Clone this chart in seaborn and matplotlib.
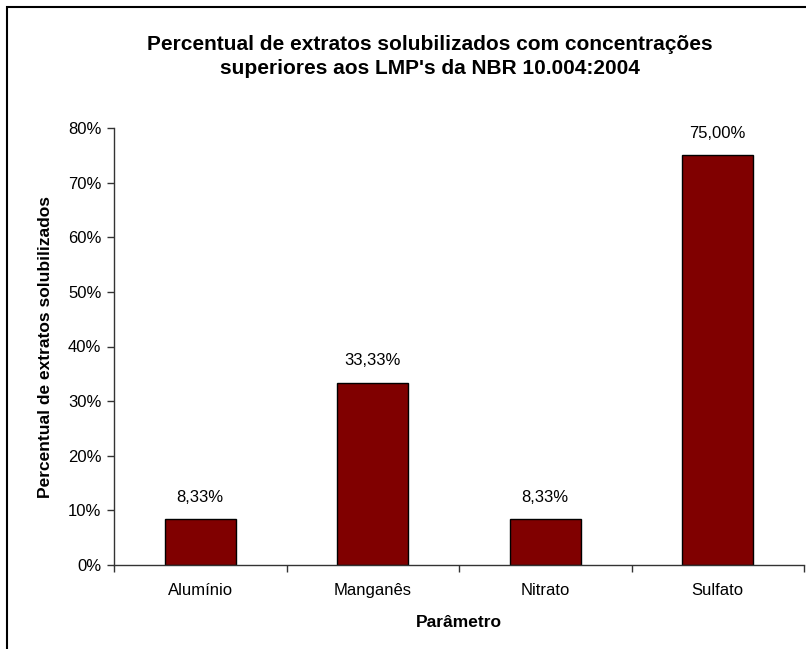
import matplotlib.pyplot as plt
import matplotlib.patches as mpatches
from matplotlib.ticker import FixedLocator
import seaborn as sns
import pandas as pd

# data
parametros = ["Alumínio", "Manganês", "Nitrato", "Sulfato"]
percentuais = [8.33, 33.33, 8.33, 75.00]
y_ticks = [0, 10, 20, 30, 40, 50, 60, 70, 80]

df = pd.DataFrame({"Parâmetro": parametros, "Percentual": percentuais})

sns.set_style("white")
plt.rcParams['font.family'] = ['Liberation Sans', 'DejaVu Sans']
plt.rcParams['text.color'] = 'black'
plt.rcParams['axes.labelcolor'] = 'black'
plt.rcParams['xtick.color'] = 'black'
plt.rcParams['ytick.color'] = 'black'

fig = plt.figure(figsize=(8.06, 6.49), dpi=100)
ax = fig.add_axes([114 / 806, 84 / 649, 690 / 806, 437 / 649])

sns.barplot(data=df, x="Parâmetro", y="Percentual", color="#800000",
            saturation=1, width=0.41, edgecolor="black", linewidth=1, ax=ax)

ax.set_xlim(-0.5, len(parametros) - 0.5)
ax.set_ylim(0, 80)
ax.set_yticks(y_ticks)
ax.set_yticklabels([f"{t}%" for t in y_ticks], fontsize=12)

# x ticks: labels at centers, tick marks between categories
ax.tick_params(axis="x", which="major", bottom=True, length=0, labelsize=12, pad=13)
ax.xaxis.set_minor_locator(FixedLocator([i - 0.5 for i in range(len(parametros) + 1)]))
ax.tick_params(axis="x", which="minor", bottom=True, length=5, width=1,
               color="#333333", direction="out")
ax.tick_params(axis="y", left=True, length=5, width=1, color="#333333",
               direction="out", pad=4)

sns.despine(ax=ax)
for s in ["left", "bottom"]:
    ax.spines[s].set_color("#333333")
    ax.spines[s].set_linewidth(1)

# value labels
for i, v in enumerate(percentuais):
    ax.annotate(f"{v:.2f}%".replace(".", ","), (i, v), xytext=(0, 16),
                textcoords="offset points", ha="center", va="center", fontsize=12)

ax.set_ylabel("Percentual de extratos solubilizados", fontsize=12.5, fontweight="bold")
ax.yaxis.set_label_coords(-0.088, 0.5)
ax.set_xlabel("Parâmetro", fontsize=12.5, fontweight="bold")
ax.xaxis.set_label_coords(0.5, -0.115)

fig.text(430 / 806, 1 - 56.5 / 649,
         "Percentual de extratos solubilizados com concentrações\nsuperiores aos LMP's da NBR 10.004:2004",
         ha="center", va="center", fontsize=15, fontweight="bold", linespacing=1.4)

# outer chart frame
fig.patches.append(mpatches.Rectangle((7 / 806, -0.5), 2, 0.5 + 1 - 7 / 649,
                                      transform=fig.transFigure, fill=False,
                                      edgecolor="black", linewidth=1.5))

fig.savefig("out.png", dpi=100)
